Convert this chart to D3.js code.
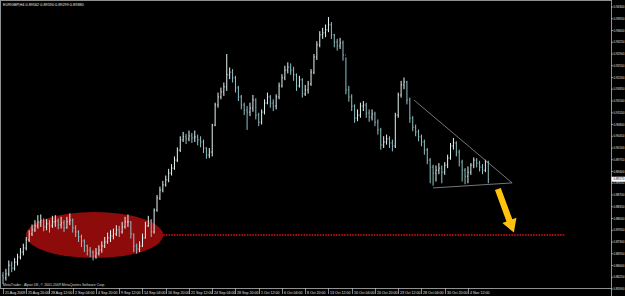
<!DOCTYPE html>
<html><head><meta charset="utf-8">
<script src="https://cdn.jsdelivr.net/npm/d3@7"></script>
<style>html,body{margin:0;padding:0;background:#000;overflow:hidden}</style>
</head><body><svg id="c" width="625" height="296"></svg>
<script>
const symbolTitle = "EURGBP,H4  0.89562 0.89590 0.89299 0.89380";
const footerText = "MetaTrader - Alpari UK, \u00a9 2001-2009 MetaQuotes Software Corp.";
const timeLabels = ["21 Aug 2009","25 Aug 20:00","28 Aug 12:00","2 Sep 04:00","4 Sep 20:00","9 Sep 12:00","14 Sep 04:00","16 Sep 20:00","21 Sep 12:00","24 Sep 04:00","28 Sep 20:00","1 Oct 12:00","6 Oct 04:00","8 Oct 20:00","13 Oct 12:00","16 Oct 04:00","20 Oct 20:00","23 Oct 12:00","28 Oct 04:00","30 Oct 20:00","4 Nov 12:00"];
const timeLabelBars = [0,8,16,24,32,40,48,56,64,72,80,88,96,104,112,120,128,136,144,152,160];
const priceTicks = [0.9430,0.9395,0.9360,0.9325,0.9290,0.9255,0.9220,0.9185,0.9150,0.9115,0.9080,0.9045,0.9010,0.8975,0.8940,0.8905,0.8870,0.8835,0.8800,0.8765,0.8730,0.8695,0.8660,0.8625,0.8590];

const highs = [
0.8640,0.8650,0.8675,0.8672,0.8682,0.8695,0.8712,0.8725,0.8745,0.8765,
0.8782,0.8795,0.8810,0.8812,0.8800,0.8798,0.8795,0.8808,0.8810,0.8800,
0.8805,0.8795,0.8805,0.8815,0.8800,0.8780,0.8765,0.8752,0.8738,0.8722,
0.8715,0.8705,0.8712,0.8720,0.8732,0.8745,0.8758,0.8765,0.8770,0.8780,
0.8778,0.8790,0.8805,0.8812,0.8792,0.8755,0.8725,0.8732,0.8755,0.8790,
0.8808,0.8798,0.8830,0.8870,0.8895,0.8912,0.8928,0.8948,0.8962,0.8985,
0.9012,0.9045,0.9058,0.9052,0.9062,0.9055,0.9062,0.9050,0.9045,0.9035,
0.9012,0.9010,0.9082,0.9145,0.9175,0.9190,0.9205,0.9290,0.9250,0.9245,
0.9225,0.9195,0.9168,0.9145,0.9135,0.9145,0.9168,0.9158,0.9115,0.9125,
0.9155,0.9175,0.9168,0.9155,0.9170,0.9205,0.9230,0.9255,0.9265,0.9262,
0.9252,0.9232,0.9225,0.9218,0.9198,0.9210,0.9245,0.9290,0.9328,0.9358,
0.9368,0.9378,0.9400,0.9385,0.9350,0.9335,0.9338,0.9330,0.9280,0.9195,
0.9170,0.9140,0.9125,0.9145,0.9150,0.9145,0.9125,0.9125,0.9118,0.9095,
0.9070,0.9045,0.9050,0.9045,0.9035,0.9115,0.9175,0.9210,0.9220,0.9210,
0.9160,0.9105,0.9080,0.9065,0.9050,0.9035,0.9010,0.8980,0.8960,0.8958,
0.8965,0.8958,0.8968,0.8990,0.9025,0.9040,0.9030,0.9005,0.8975,0.8950,
0.8955,0.8965,0.8982,0.8980,0.8972,0.8962,0.8975,0.8972];
const lows = [
0.8605,0.8615,0.8628,0.8640,0.8645,0.8660,0.8678,0.8690,0.8705,0.8730,
0.8748,0.8760,0.8770,0.8775,0.8762,0.8765,0.8758,0.8772,0.8775,0.8768,
0.8770,0.8760,0.8770,0.8780,0.8758,0.8745,0.8730,0.8715,0.8700,0.8690,
0.8685,0.8675,0.8680,0.8690,0.8698,0.8712,0.8725,0.8730,0.8738,0.8748,
0.8745,0.8755,0.8770,0.8775,0.8740,0.8700,0.8695,0.8700,0.8715,0.8740,
0.8775,0.8745,0.8755,0.8820,0.8855,0.8878,0.8895,0.8908,0.8928,0.8945,
0.8968,0.8998,0.9028,0.9022,0.9030,0.9025,0.9028,0.9018,0.9012,0.8995,
0.8978,0.8980,0.8985,0.9075,0.9130,0.9155,0.9165,0.9180,0.9215,0.9205,
0.9175,0.9150,0.9125,0.9108,0.9064,0.9105,0.9118,0.9095,0.9075,0.9080,
0.9110,0.9140,0.9130,0.9120,0.9125,0.9155,0.9190,0.9212,0.9232,0.9228,
0.9210,0.9180,0.9190,0.9160,0.9165,0.9172,0.9195,0.9230,0.9272,0.9310,
0.9335,0.9340,0.9355,0.9335,0.9310,0.9300,0.9305,0.9270,0.9170,0.9148,
0.9120,0.9085,0.9090,0.9100,0.9120,0.9100,0.9088,0.9092,0.9075,0.9050,
0.9005,0.9010,0.9020,0.9010,0.9000,0.9010,0.9100,0.9160,0.9185,0.9140,
0.9085,0.9060,0.9045,0.9030,0.9015,0.8990,0.8962,0.8905,0.8898,0.8910,
0.8932,0.8905,0.8930,0.8950,0.8975,0.9005,0.8985,0.8955,0.8910,0.8902,
0.8905,0.8930,0.8950,0.8952,0.8940,0.8932,0.8938,0.8905];
const closes = [
0.8623,0.8635,0.8661,0.8652,0.8670,0.8685,0.8700,0.8712,0.8736,0.8754,
0.8766,0.8778,0.8790,0.8795,0.8775,0.8784,0.8778,0.8790,0.8793,0.8781,
0.8787,0.8772,0.8790,0.8795,0.8772,0.8760,0.8745,0.8733,0.8718,0.8706,
0.8700,0.8688,0.8697,0.8706,0.8718,0.8730,0.8742,0.8748,0.8754,0.8766,
0.8760,0.8775,0.8790,0.8790,0.8754,0.8718,0.8709,0.8718,0.8742,0.8778,
0.8793,0.8760,0.8825,0.8861,0.8885,0.8900,0.8915,0.8935,0.8950,0.8974,
0.9004,0.9034,0.9043,0.9037,0.9046,0.9040,0.9043,0.9034,0.9028,0.9010,
0.8989,0.8998,0.9078,0.9138,0.9162,0.9177,0.9192,0.9228,0.9236,0.9219,
0.9189,0.9162,0.9138,0.9123,0.9117,0.9129,0.9153,0.9108,0.9087,0.9117,
0.9144,0.9162,0.9144,0.9135,0.9162,0.9195,0.9219,0.9242,0.9251,0.9242,
0.9228,0.9195,0.9213,0.9171,0.9183,0.9201,0.9236,0.9281,0.9317,0.9347,
0.9353,0.9362,0.9377,0.9347,0.9326,0.9314,0.9323,0.9287,0.9183,0.9162,
0.9135,0.9099,0.9108,0.9135,0.9138,0.9114,0.9102,0.9111,0.9087,0.9064,
0.9019,0.9028,0.9037,0.9025,0.9016,0.9108,0.9168,0.9198,0.9207,0.9153,
0.9099,0.9072,0.9058,0.9043,0.9028,0.9004,0.8974,0.8953,0.8935,0.8944,
0.8950,0.8938,0.8959,0.8980,0.9016,0.9025,0.8998,0.8968,0.8944,0.8926,
0.8938,0.8959,0.8974,0.8965,0.8953,0.8944,0.8968,0.8917];
const firstOpen = 0.8630;

// annotations, in (bar index, price) units
const targetLevel = 0.8751;
const targetLineBars = [55.1, 193.4];
const zoneBars = [7.9, 55.1];
const zonePrices = [0.8819, 0.8682];
const triangleUpper = [[141.4, 0.9153], [175.2, 0.8906]];
const triangleLower = [[148.0, 0.8891], [175.2, 0.8906]];
const arrowPts = [[170.3, 0.8888], [175.8, 0.8758]];

const W = 625, H = 296, axisX = 611, plotBottom = 288;
const svg = d3.select("#c");
const x = d3.scaleLinear().domain([0, 167]).range([3, 488.3]);
const y = d3.scaleLinear().domain([0.8590, 0.9430]).range([289, 7]);
const font = "'Liberation Sans', Arial, sans-serif";

svg.append("rect").attr("width", W).attr("height", H).attr("fill", "#000");
svg.append("defs").append("clipPath").attr("id", "pc")
  .append("rect").attr("x", 0).attr("y", 1).attr("width", axisX).attr("height", plotBottom - 1);
const plot = svg.append("g").attr("clip-path", "url(#pc)");

// red zone ellipse (behind bars)
const cx = (x(zoneBars[0]) + x(zoneBars[1])) / 2, cy = (y(zonePrices[0]) + y(zonePrices[1])) / 2;
plot.append("ellipse").attr("cx", cx).attr("cy", cy)
  .attr("rx", (x(zoneBars[1]) - x(zoneBars[0])) / 2).attr("ry", (y(zonePrices[1]) - y(zonePrices[0])) / 2)
  .attr("fill", "#8e0b0b");

// target dotted line
plot.append("line").attr("x1", x(targetLineBars[0])).attr("x2", x(targetLineBars[1]))
  .attr("y1", y(targetLevel)).attr("y2", y(targetLevel))
  .attr("stroke", "#e01010").attr("stroke-width", 1.6).attr("stroke-dasharray", "1.6,1.1");

// bars
const bars = closes.map((c, i) => ({i, o: i ? closes[i - 1] : firstOpen, h: highs[i], l: lows[i], c}));
const bg = plot.append("g").attr("stroke-width", 1);
bars.forEach(b => {
  const col = b.c >= b.o ? "#e4f4f4" : "#8fc2c6";
  bg.append("line").attr("x1", x(b.i)).attr("x2", x(b.i)).attr("y1", y(b.h)).attr("y2", y(b.l)).attr("stroke", col);
  bg.append("line").attr("x1", x(b.i) - 0.9).attr("x2", x(b.i)).attr("y1", y(b.o)).attr("y2", y(b.o)).attr("stroke", col).attr("stroke-width", 0.8);
  bg.append("line").attr("x1", x(b.i)).attr("x2", x(b.i) + 0.9).attr("y1", y(b.c)).attr("y2", y(b.c)).attr("stroke", col).attr("stroke-width", 0.8);
});

// triangle
[triangleUpper, triangleLower].forEach(seg => {
  plot.append("line").attr("x1", x(seg[0][0])).attr("y1", y(seg[0][1]))
    .attr("x2", x(seg[1][0])).attr("y2", y(seg[1][1]))
    .attr("stroke", "#a8a8a8").attr("stroke-width", 0.7);
});

// yellow arrow
(function () {
  const p0 = [x(arrowPts[0][0]), y(arrowPts[0][1])], p1 = [x(arrowPts[1][0]), y(arrowPts[1][1])];
  const dx = p1[0] - p0[0], dy = p1[1] - p0[1], len = Math.hypot(dx, dy);
  const u = [dx / len, dy / len], n = [-u[1], u[0]];
  const sw = 3.1, hw = 7.5, hl = 13;
  const b = [p1[0] - u[0] * hl, p1[1] - u[1] * hl];
  const pts = [
    [p0[0] + n[0] * sw, p0[1] + n[1] * sw],
    [b[0] + n[0] * sw, b[1] + n[1] * sw],
    [b[0] + n[0] * hw, b[1] + n[1] * hw],
    p1,
    [b[0] - n[0] * hw, b[1] - n[1] * hw],
    [b[0] - n[0] * sw, b[1] - n[1] * sw],
    [p0[0] - n[0] * sw, p0[1] - n[1] * sw]
  ];
  plot.append("polygon").attr("points", pts.map(p => p.join(",")).join(" ")).attr("fill", "#ffc20e");
})();

// frame
svg.append("line").attr("x1", 0).attr("x2", axisX).attr("y1", 0.5).attr("y2", 0.5).attr("stroke", "#909090");
svg.append("line").attr("x1", 0.5).attr("x2", 0.5).attr("y1", 0).attr("y2", plotBottom).attr("stroke", "#909090");
svg.append("line").attr("x1", 0).attr("x2", axisX).attr("y1", plotBottom + 0.5).attr("y2", plotBottom + 0.5).attr("stroke", "#909090");
svg.append("line").attr("x1", axisX + 0.5).attr("x2", axisX + 0.5).attr("y1", 0).attr("y2", H).attr("stroke", "#909090");

// price axis
const pa = svg.append("g");
priceTicks.forEach(p => {
  pa.append("line").attr("x1", axisX).attr("x2", axisX + 2).attr("y1", y(p)).attr("y2", y(p)).attr("stroke", "#c0c0c0").attr("stroke-width", 0.7);
  pa.append("text").attr("x", axisX + 2.4).attr("y", y(p) + 1.2).text(p.toFixed(5))
    .attr("font-family", font).attr("font-size", 3.4).attr("fill", "#e0e0e0")
    .attr("textLength", 11).attr("lengthAdjust", "spacingAndGlyphs");
});
// current price box
const last = closes[closes.length - 1];
pa.append("rect").attr("x", axisX + 0.5).attr("y", y(last) - 2.5).attr("width", 13.5).attr("height", 5).attr("fill", "#ffffff");
pa.append("text").attr("x", axisX + 2.4).attr("y", y(last) + 1.2).text(last.toFixed(5))
  .attr("font-family", font).attr("font-size", 3.4).attr("fill", "#000")
  .attr("textLength", 11).attr("lengthAdjust", "spacingAndGlyphs");

// time axis
const ta = svg.append("g");
timeLabels.forEach((t, k) => {
  const xx = Math.round(x(timeLabelBars[k])) + 0.5;
  ta.append("line").attr("x1", xx).attr("x2", xx).attr("y1", plotBottom).attr("y2", plotBottom + 6).attr("stroke", "#c0c0c0").attr("stroke-width", 0.7);
  ta.append("text").attr("x", xx + 1.5).attr("y", plotBottom + 5.5).text(t)
    .attr("font-family", font).attr("font-size", 3.6).attr("fill", "#e0e0e0");
});

// title & footer
svg.append("text").attr("x", 3).attr("y", 6).text(symbolTitle)
  .attr("font-family", font).attr("font-size", 3.8).attr("fill", "#e8e8e8");
svg.append("text").attr("x", 3).attr("y", 285.8).text(footerText)
  .attr("font-family", font).attr("font-size", 3.5).attr("fill", "#d8d8d8");
</script></body></html>
